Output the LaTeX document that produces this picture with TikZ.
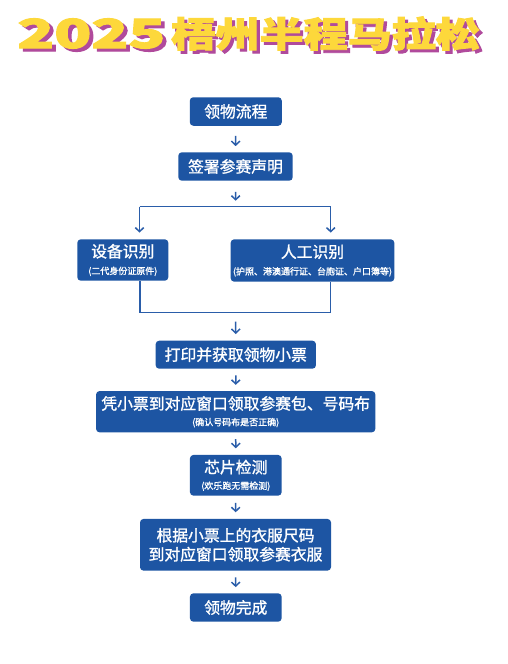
\documentclass[tikz,border=0pt]{standalone}
\usepackage{fontspec}
\setmainfont{Noto Sans CJK SC}
\newfontfamily\boxfont[FakeBold=1.3]{Noto Sans CJK SC}
\newfontfamily\titlefont[FakeBold=2.5]{Noto Sans CJK SC}
\usetikzlibrary{arrows.meta}

\definecolor{boxblue}{HTML}{1D55A3}
\definecolor{lineblue}{HTML}{2A5DA9}
\definecolor{titleyellow}{HTML}{FDD83B}
\definecolor{titleshadow}{HTML}{B04A9C}

\newcommand{\mainsz}{\fontsize{15.8}{17}\selectfont}
\newcommand{\subsz}{\fontsize{9}{10}\selectfont}
% yellow title text over its magenta shadow
\newcommand{\shadowtext}[1]{\rlap{\raisebox{-3pt}{\hspace{2.5pt}\textcolor{titleshadow}{#1}}}\textcolor{titleyellow}{#1}}

\tikzset{FlowBox/.style={fill=boxblue,rounded corners=3.5pt,text=white,
           inner sep=0pt,align=center,font=\boxfont\mainsz},
         FlowArrow/.style={draw=lineblue,line width=1.5pt,
           -{Straight Barb[length=4pt,width=8.5pt,line width=1.5pt]}},
         FlowLine/.style={draw=lineblue,line width=1.5pt},
         TitleText/.style={inner sep=0pt,anchor=west}}

\begin{document}
\begin{tikzpicture}[x=1pt,y=-1pt]
  \useasboundingbox[fill=white] (0,0) rectangle (508,664);
  % title
  \node[TitleText,xscale=1.52,font=\titlefont\bfseries\fontsize{40}{40}\selectfont]
    (year) at (17,35) {\shadowtext{2025}};
  \node[TitleText,xscale=1.26,font=\titlefont\bfseries\fontsize{35}{35}\selectfont]
    (race) at (171,35) {\shadowtext{梧州半程马拉松}};
  % boxes
  \node[FlowBox,minimum width=92pt,minimum height=28.5pt] (start) at (235.8,111.5) {领物流程};
  \node[FlowBox,minimum width=114.4pt,minimum height=28.4pt] (sign) at (235.5,166.5) {签署参赛声明};
  \node[FlowBox,minimum width=91pt,minimum height=41.4pt] (device) at (122.8,260)
    {设备识别\\[0pt]{\subsz (二代身份证原件)}};
  \node[FlowBox,minimum width=163.6pt,minimum height=42.4pt] (manual) at (312.5,260.5)
    {人工识别\\[0pt]{\subsz (护照、港澳通行证、台胞证、户口簿等)}};
  \node[FlowBox,minimum width=160.3pt,minimum height=28pt] (ticket) at (235.8,354.7) {打印并获取领物小票};
  \node[FlowBox,minimum width=279.3pt,minimum height=41.3pt] (bib) at (235.7,411.7)
    {凭小票到对应窗口领取参赛包、号码布\\[-1pt]{\subsz (确认号码布是否正确)}};
  \node[FlowBox,minimum width=91.7pt,minimum height=40.7pt] (chip) at (235.8,475.3)
    {芯片检测\\[-1pt]{\subsz (欢乐跑无需检测)}};
  \node[FlowBox,minimum width=191pt,minimum height=51.7pt] (shirt) at (235.5,544.8)
    {根据小票上的衣服尺码\\[2pt]到对应窗口领取参赛衣服};
  \node[FlowBox,minimum width=91.7pt,minimum height=28.4pt] (done) at (235.8,607.5) {领物完成};
  % split and merge points
  \coordinate (splitM) at (235.7,206.7);
  \coordinate (splitL) at (139.5,206.7);
  \coordinate (splitR) at (330.7,206.7);
  \coordinate (mergeL) at (140,312.7);
  \coordinate (mergeR) at (330.7,312.7);
  \coordinate (mergeM) at (235.7,312.7);
  % connectors
  \draw[FlowArrow,shorten <=10pt,shorten >=6pt] (start) -- (sign);
  \draw[FlowArrow,shorten <=11pt,shorten >=6pt] (sign) -- (splitM);
  \draw[FlowLine] (splitL) -- (splitR);
  \draw[FlowArrow,shorten >=6.5pt] (splitL) -- (splitL |- device.north);
  \draw[FlowArrow,shorten >=6.5pt] (splitR) -- (splitR |- manual.north);
  \draw[FlowLine] (mergeL |- device.south) -- (mergeL) -- (mergeR) -- (mergeR |- manual.south);
  \draw[FlowArrow,shorten <=9pt,shorten >=6.5pt] (mergeM) -- (ticket);
  \draw[FlowArrow,shorten <=6.5pt,shorten >=6pt] (ticket) -- (bib);
  \draw[FlowArrow,shorten <=6.5pt,shorten >=6.5pt] (bib) -- (chip);
  \draw[FlowArrow,shorten <=7pt,shorten >=6.5pt] (chip) -- (shirt);
  \draw[FlowArrow,shorten <=6.5pt,shorten >=6pt] (shirt) -- (done);
\end{tikzpicture}
\end{document}
